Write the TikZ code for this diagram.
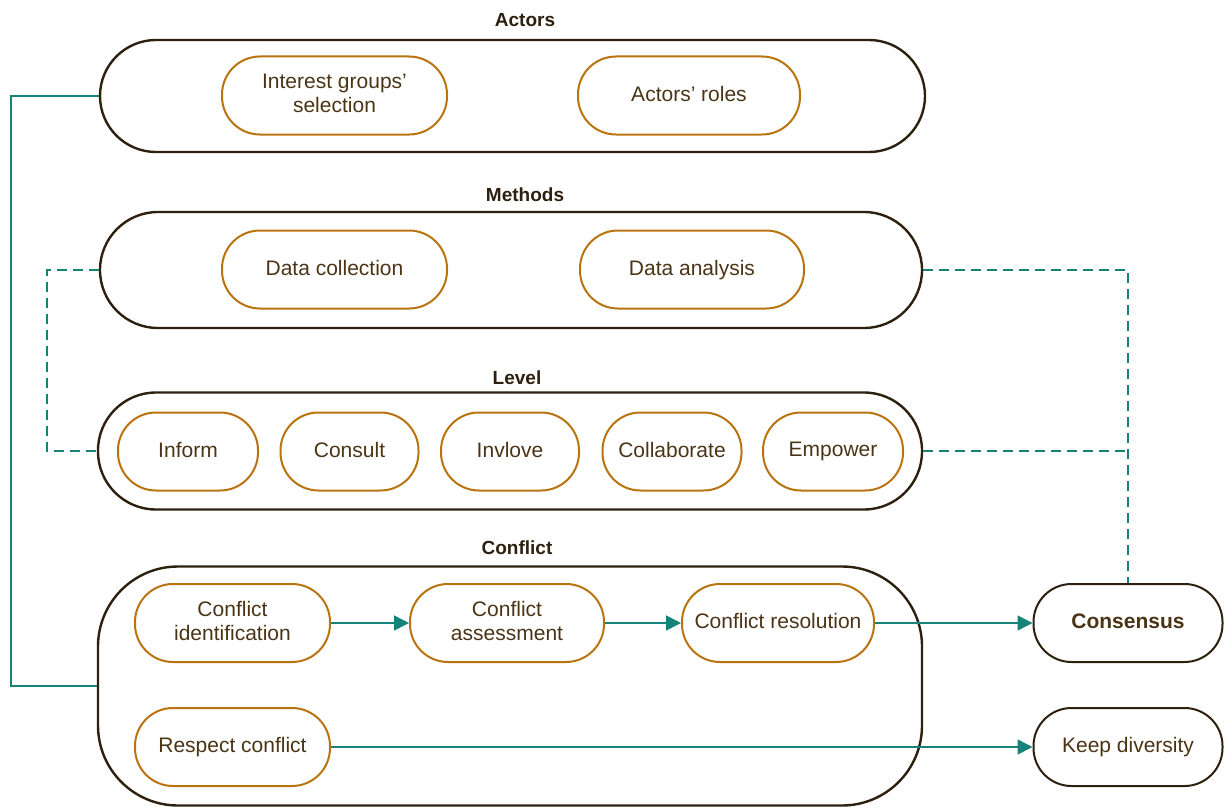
\documentclass[tikz,border=0pt]{standalone}
\usepackage{fontspec}
\setmainfont{Liberation Sans}
\usetikzlibrary{arrows.meta}
\definecolor{teal1}{RGB}{22,130,120}
\definecolor{ochre}{RGB}{185,115,15}
\definecolor{darkbr}{RGB}{45,32,14}
\definecolor{textbr}{RGB}{75,52,22}

\begin{document}
\begin{tikzpicture}[x=1pt,y=-1pt,
  outer/.style={draw=darkbr,line width=2.4pt,inner sep=0pt},
  inner/.style={draw=ochre,line width=2pt,rounded corners=38pt,minimum height=78pt,inner sep=0pt,align=center,text depth=4pt,text=textbr,font=\fontsize{21}{24}\selectfont},
  endbox/.style={inner,draw=darkbr},
  title/.style={text=darkbr,font=\fontsize{19}{23}\selectfont\bfseries},
  link/.style={draw=teal1,line width=1.5pt},
  dlink/.style={link,dash pattern=on 10pt off 6pt},
  arr/.style={link,-{Triangle[length=15pt,width=15pt]}}]
  \useasboundingbox (0,0) rectangle (1225,808);
  % groups
  \node[outer,rounded corners=56pt,minimum width=825pt,minimum height=112pt] (actors) at (512.5,96) {};
  \node[title] (tact) at (525,20) {Actors};
  \node[outer,rounded corners=58pt,minimum width=822pt,minimum height=116pt] (methods) at (511,270) {};
  \node[title] (tmet) at (525,195) {Methods};
  \node[outer,rounded corners=58pt,minimum width=824pt,minimum height=117pt] (level) at (510,451) {};
  \node[title] (tlev) at (517,378) {Level};
  \node[outer,rounded corners=80pt,minimum width=824pt,minimum height=239pt] (conflict) at (510,686) {};
  \node[title] (tcon) at (517,548) {Conflict};
  % inner steps
  \node[inner,minimum width=225pt] (igs) at (334.5,95.5) {Interest groups'\\selection};
  \node[inner,minimum width=222pt] (roles) at (689,95.5) {Actors' roles};
  \node[inner,minimum width=225pt] (dcol) at (334.5,269.5) {Data collection};
  \node[inner,minimum width=224pt] (dana) at (692,269.5) {Data analysis};
  \node[inner,minimum width=140pt] (inform) at (188,451.5) {Inform};
  \node[inner,minimum width=138pt] (consult) at (349.5,451.5) {Consult};
  \node[inner,minimum width=138pt] (involve) at (510,451.5) {Invlove};
  \node[inner,minimum width=139pt] (collab) at (672,451.5) {Collaborate};
  \node[inner,minimum width=140pt] (empower) at (833,451.5) {Empower};
  \node[inner,minimum width=195pt] (cid) at (232.5,623) {Conflict\\identification};
  \node[inner,minimum width=194pt] (cass) at (507,623) {Conflict\\assessment};
  \node[inner,minimum width=192pt] (cres) at (778,623) {Conflict resolution};
  \node[inner,minimum width=195pt] (resp) at (232.5,747) {Respect conflict};
  \node[endbox,minimum width=189pt,font=\fontsize{21}{24}\selectfont\bfseries] (cons) at (1128,623) {Consensus};
  \node[endbox,minimum width=189pt] (keep) at (1128,747) {Keep diversity};
  % links
  \draw[link] (actors.west) -- ++(-88,0) |- (conflict.west);
  \draw[dlink] (methods.west) -- ++(-52,0) |- (level.west);
  \draw[dlink] (methods.east) -| (cons.north);
  \draw[dlink] (level.east) -- (cons.north |- level.east);
  \draw[arr] (cid) -- (cass);
  \draw[arr] (cass) -- (cres);
  \draw[arr] (cres) -- (cons);
  \draw[arr] (resp) -- (keep);
\end{tikzpicture}
\end{document}
